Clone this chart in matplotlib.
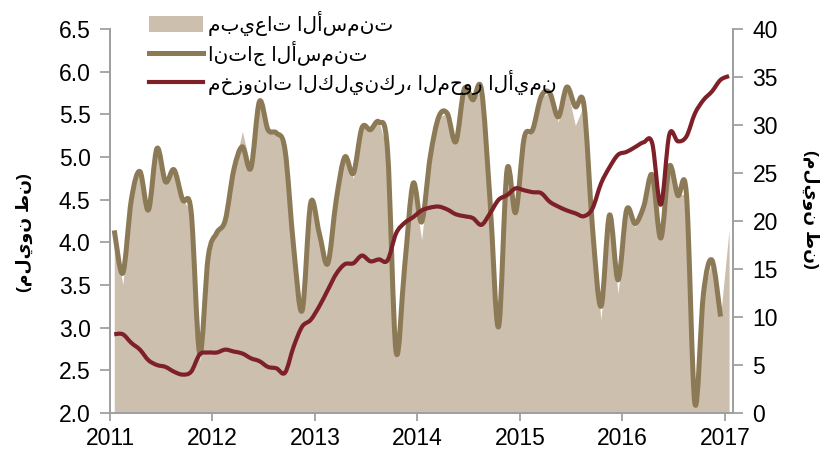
import numpy as np
import matplotlib
matplotlib.use('Agg')
import matplotlib.pyplot as plt
from matplotlib.patches import Patch, PathPatch
from matplotlib.lines import Line2D
from matplotlib.path import Path

plt.rcParams['font.family'] = ['Liberation Sans', 'DejaVu Sans']

# monthly data, Jan 2011 onwards
production = [4.14, 3.64, 4.50, 4.83, 4.38, 5.10, 4.71, 4.85, 4.50, 4.36, 2.70, 3.83,
              4.11, 4.26, 4.85, 5.12, 4.87, 5.65, 5.32, 5.28, 5.08, 3.95, 3.20, 4.46,
              4.11, 3.75, 4.50, 5.00, 4.81, 5.34, 5.32, 5.41, 5.08, 2.72, 3.71, 4.69,
              4.24, 5.00, 5.47, 5.51, 5.18, 5.80, 5.67, 5.79, 4.50, 3.01, 4.85, 4.35,
              5.22, 5.32, 5.71, 5.75, 5.47, 5.82, 5.59, 5.61, 4.18, 3.25, 4.32, 3.56,
              4.38, 4.22, 4.42, 4.79, 4.05, 4.89, 4.55, 4.57, 2.11, 3.40, 3.79, 3.13]

sales = [4.14, 3.50, 4.50, 4.83, 4.38, 5.10, 4.71, 4.85, 4.50, 4.36, 2.60, 3.83,
         4.11, 4.26, 4.85, 5.30, 4.87, 5.65, 5.32, 5.28, 5.08, 3.95, 3.20, 4.46,
         4.11, 3.75, 4.50, 5.00, 4.75, 5.34, 5.32, 5.41, 5.08, 2.72, 3.71, 4.69,
         4.03, 5.00, 5.47, 5.51, 5.18, 5.80, 5.67, 5.79, 4.50, 3.01, 4.85, 4.35,
         5.22, 5.32, 5.71, 5.75, 5.41, 5.82, 5.37, 5.61, 4.18, 3.09, 4.32, 3.40,
         4.38, 4.18, 4.42, 4.79, 4.05, 4.89, 4.55, 4.57, 2.11, 3.40, 3.79, 3.13,
         4.15]

clinker = [8.2, 8.2, 7.3, 6.6, 5.5, 5.0, 4.8, 4.3, 4.0, 4.3, 6.1, 6.3,
           6.3, 6.6, 6.4, 6.2, 5.7, 5.4, 4.8, 4.65, 4.2, 6.9, 9.0, 9.7,
           11.1, 12.8, 14.5, 15.5, 15.6, 16.4, 15.8, 16.0, 15.9, 18.7, 19.8, 20.4,
           21.1, 21.4, 21.5, 21.2, 20.7, 20.5, 20.3, 19.6, 20.8, 22.2, 22.7, 23.4,
           23.2, 23.0, 22.9, 22.0, 21.5, 21.1, 20.8, 20.5, 21.3, 23.9, 25.6, 26.9,
           27.2, 27.7, 28.2, 28.1, 21.7, 29.0, 28.3, 28.8, 31.2, 32.6, 33.5, 34.7,
           35.1]

years = [2011, 2012, 2013, 2014, 2015, 2016, 2017]
labels = ['مبيعات الأسمنت', 'انتاج الأسمنت', 'مخزونات الكلينكر، المحور الأيمن']
unit = '(مليون طن)'

c_area = '#cdbfad'
c_prod = '#8c7a57'
c_clk = '#7d2028'
c_axis = '#a0a0a0'


def month_x(n):
    return 2011 + (np.arange(n) + 0.5) / 12


def smooth_line(ax, x, y, **kw):
    # excel-like smoothed line: bezier through every point
    p = np.column_stack([x, y])
    verts = [p[0]]
    codes = [Path.MOVETO]
    for i in range(len(p) - 1):
        p0 = p[i - 1] if i > 0 else p[i]
        p3 = p[i + 2] if i + 2 < len(p) else p[i + 1]
        verts += [p[i] + (p[i + 1] - p0) / 6, p[i + 1] - (p3 - p[i]) / 6, p[i + 1]]
        codes += [Path.CURVE4] * 3
    ax.add_patch(PathPatch(Path(verts, codes), fill=False, capstyle='butt',
                           joinstyle='round', **kw))


fig = plt.figure(figsize=(8.26, 4.59), dpi=100)
ax = fig.add_axes([110/826, 1-413/459, (733-110)/826, (413-29)/459])
ax2 = ax.twinx()

ax.fill_between(month_x(len(sales)), sales, 2.0, color=c_area, lw=0)
smooth_line(ax, month_x(len(production)), production, edgecolor=c_prod, lw=3.6)
smooth_line(ax2, month_x(len(clinker)), clinker, edgecolor=c_clk, lw=3.0)

ax.set_xlim(2011, 2017.08)
ax.set_ylim(2.0, 6.5)
ax2.set_ylim(0, 40)
ax.set_xticks(years)
ax.set_xticklabels([str(y) for y in years])
ax.set_yticks(np.arange(2.0, 6.51, 0.5))
ax.set_yticklabels(['%.1f' % v for v in np.arange(2.0, 6.51, 0.5)])
ax2.set_yticks(range(0, 41, 5))

for a in (ax, ax2):
    for s in a.spines.values():
        s.set_color(c_axis)
        s.set_linewidth(1.3)
    a.spines['top'].set_visible(False)
    a.tick_params(axis='y', colors=c_axis, labelcolor='black', labelsize=16.5,
                  length=7, width=1.3, pad=7)
ax.tick_params(axis='x', colors=c_axis, labelcolor='black', labelsize=16.5,
               length=6, width=1.3, pad=4)

ax.set_ylabel(unit, fontsize=12.5, fontweight='bold', rotation=90,
              ha='center', va='center')
ax.yaxis.set_label_coords(-0.138, 0.47)
ax2.set_ylabel(unit, fontsize=12.5, fontweight='bold', rotation=270,
               ha='center', va='center')
ax2.yaxis.set_label_coords(1.125, 0.53)

handles = [Patch(facecolor=c_area, edgecolor='none'),
           Line2D([], [], color=c_prod, lw=3.6),
           Line2D([], [], color=c_clk, lw=3.0)]
fig.legend(handles, labels, loc='upper left', bbox_to_anchor=(138/826, 1.0),
           frameon=False, fontsize=14.5, handlelength=2.7, handleheight=0.9,
           handletextpad=0.25, labelspacing=0.22, borderaxespad=0.15)

fig.savefig('out.png', dpi=100)
